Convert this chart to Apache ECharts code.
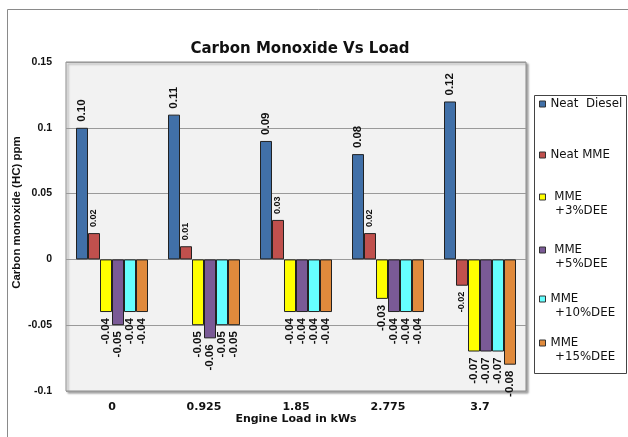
<!DOCTYPE html>
<html>
<head>
<meta charset="utf-8">
<script src="https://cdn.jsdelivr.net/npm/echarts@6/dist/echarts.min.js"></script>
<style>
  html, body { margin: 0; padding: 0; background: #ffffff; }
  #chart { width: 628px; height: 437px; }
</style>
</head>
<body>
<div id="chart"></div>
<script>
// Engine load steps (kW)
const loads = ['0', '0.925', '1.85', '2.775', '3.7'];

// CO emission per fuel blend
const neatDiesel = [0.10, 0.11, 0.09, 0.08, 0.12];
const neatMME    = [0.02, 0.01, 0.03, 0.02, -0.02];
const mme3DEE    = [-0.04, -0.05, -0.04, -0.03, -0.07];
const mme5DEE    = [-0.05, -0.06, -0.04, -0.04, -0.07];
const mme10DEE   = [-0.04, -0.05, -0.04, -0.04, -0.07];
const mme15DEE   = [-0.04, -0.05, -0.04, -0.04, -0.08];

const seriesNames = ['Neat Diesel', 'Neat MME', 'MME +3%DEE', 'MME +5%DEE', 'MME +10%DEE', 'MME +15%DEE'];
// legend text, one entry per line
const legendLines = [
  ['Neat  Diesel'],
  ['Neat MME'],
  [' MME', '+3%DEE'],
  [' MME', '+5%DEE'],
  ['MME', '+10%DEE'],
  ['MME', '+15%DEE']
];
const seriesValues = [neatDiesel, neatMME, mme3DEE, mme5DEE, mme10DEE, mme15DEE];
const seriesColors = ['#4170A8', '#C0504D', '#FFFF00', '#7A5A96', '#66FFFF', '#E08A3C'];

const SANS = 'Liberation Sans, Arial, sans-serif';
const WIDE = 'DejaVu Sans, Verdana, sans-serif';

// legend rows: vertical centre of each entry's first line
const legendRowY = [104, 155, 197, 250, 299, 343];

function buildData(values, fontSize) {
  return values.map(v => ({
    value: v,
    label: v >= 0
      ? { position: 'top', align: 'left', verticalAlign: 'middle', fontSize: fontSize }
      : { position: 'bottom', align: 'right', verticalAlign: 'middle', fontSize: fontSize }
  }));
}

// one legend block per series so each row sits at its own height
const legends = seriesNames.map((name, i) => ({
  data: [name],
  orient: 'vertical',
  left: 539,
  top: legendRowY[i] - 7,
  padding: 0,
  itemWidth: 6,
  itemHeight: 6,
  icon: 'rect',
  itemStyle: { borderColor: '#333', borderWidth: 1 },
  textStyle: { fontFamily: WIDE, fontSize: 11.8, color: '#111', lineHeight: 14 },
  formatter: () => legendLines[i][0]
}));

// second text line of the two-line legend entries
const legendSecondLines = legendLines
  .map((lines, i) => ({ lines, i }))
  .filter(o => o.lines[1])
  .map(o => ({
    type: 'text',
    z: 10,
    style: {
      text: o.lines[1],
      x: 555,
      y: legendRowY[o.i] + 14,
      verticalAlign: 'middle',
      font: '11.8px "DejaVu Sans", Verdana, sans-serif',
      fill: '#111'
    }
  }));

const chart = echarts.init(document.getElementById('chart'), null, { renderer: 'canvas' });

chart.setOption({
  backgroundColor: '#ffffff',
  animation: false,
  title: {
    text: 'Carbon Monoxide Vs Load',
    left: 295,
    textAlign: 'center',
    top: 37,
    textStyle: { fontFamily: WIDE, fontSize: 15, fontWeight: 'bold', color: '#111' }
  },
  graphic: [{
    type: 'rect',
    shape: { x: 7.5, y: 9.5, width: 700, height: 500 },
    style: { fill: 'none', stroke: '#8a8a8a', lineWidth: 1 },
    z: -1
  }, {
    type: 'rect',
    shape: { x: 534.5, y: 95.5, width: 92, height: 278 },
    style: { fill: '#ffffff', stroke: '#444', lineWidth: 1 },
    z: 0
  }].concat(legendSecondLines),
  legend: legends,
  grid: {
    left: 66,
    right: 102,
    top: 62,
    bottom: 46,
    containLabel: false,
    outerBoundsMode: 'none',
    show: true,
    backgroundColor: '#F2F2F2',
    borderColor: '#8c8c8c',
    borderWidth: 1,
    shadowColor: 'rgba(0,0,0,0.35)',
    shadowOffsetX: 2,
    shadowOffsetY: 2,
    shadowBlur: 2
  },
  xAxis: {
    type: 'category',
    data: loads,
    name: 'Engine Load in kWs',
    nameLocation: 'middle',
    nameGap: 23,
    nameMoveOverlap: false,
    nameTextStyle: { fontFamily: WIDE, fontSize: 11, fontWeight: 'bold', color: '#111' },
    axisLine: { show: false },
    axisTick: { show: false },
    axisLabel: { margin: 11, fontFamily: WIDE, fontSize: 11, fontWeight: 'bold', color: '#111' },
    splitLine: { show: false }
  },
  yAxis: {
    type: 'value',
    min: -0.1,
    max: 0.15,
    interval: 0.05,
    name: 'Carbon monoxide (HC) ppm',
    nameLocation: 'middle',
    nameRotate: 90,
    nameGap: 43,
    nameMoveOverlap: false,
    nameTextStyle: {
      fontFamily: SANS, fontSize: 11.5, fontWeight: 'bold', color: '#111',
      padding: [0, 0, 0, 28]
    },
    axisLine: { show: false },
    axisTick: { show: false },
    axisLabel: {
      margin: 14,
      fontFamily: SANS, fontSize: 10.5, fontWeight: 'bold', color: '#111',
      formatter: v => String(Math.round(v * 100) / 100)
    },
    splitLine: { show: true, lineStyle: { color: '#9a9a9a', width: 1 } }
  },
  series: seriesValues.map((vals, i) => ({
    name: seriesNames[i],
    type: 'bar',
    barWidth: 12,
    barGap: '0%',
    data: buildData(vals, i === 1 ? 9 : 11.5),
    itemStyle: { color: seriesColors[i], borderColor: '#222', borderWidth: 1 },
    label: {
      show: true,
      rotate: 90,
      distance: 6,
      fontFamily: SANS,
      fontWeight: 'bold',
      color: '#111',
      formatter: p => p.value.toFixed(2)
    }
  }))
});
</script>
</body>
</html>
